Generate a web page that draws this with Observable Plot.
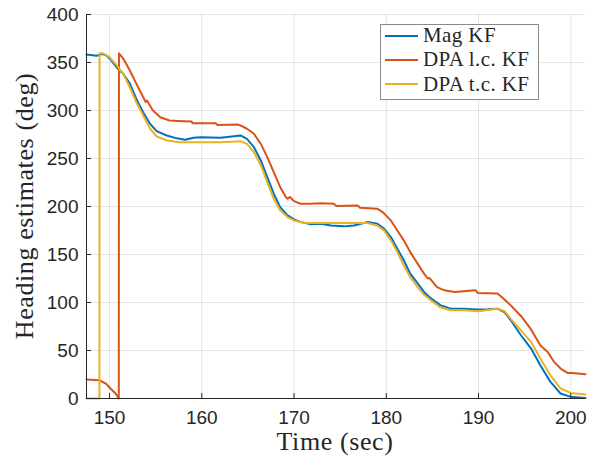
<!DOCTYPE html>
<html>
<head>
<meta charset="utf-8">
<script src="https://cdn.jsdelivr.net/npm/d3@7"></script>
<script src="https://cdn.jsdelivr.net/npm/@observablehq/plot@0.6"></script>
<style>
  body { margin: 0; background: #fff; }
  #chart { position: relative; width: 591px; height: 459px; overflow: hidden; }
  .ylabel, .xlabel { position: absolute; font-family: "Liberation Serif", serif; font-size: 26px; letter-spacing: 0.6px;
                     color: #262626; white-space: nowrap; line-height: 1; }
  .xlabel { left: 335px; top: 442px; transform: translate(-50%, -50%); }
  .ylabel { left: 25px; top: 206px; transform: translate(-50%, -50%) rotate(-90deg); }
  .legend { position: absolute; left: 380px; top: 24px; width: 159px; height: 76px; box-sizing: border-box;
            border: 1px solid #8a8a8a; background: #fff; font-family: "Liberation Serif", serif; font-size: 21px;
            letter-spacing: 0.4px; color: #262626; padding: 0 0 0 4px; }
  .legend .rows { margin-top: -1.5px; }
  .legend .row { display: flex; align-items: center; height: 24.3px; white-space: nowrap; }
  .legend .sw { width: 33px; height: 2px; margin-right: 5px; flex: none; }
</style>
</head>
<body>
<div id="chart"></div>
<script>
// Heading estimates of three Kalman filters over time
const magTime = [147.5, 148.6, 148.95, 149.2, 149.7, 150.2, 150.9, 151.5, 152.2, 152.9, 153.65, 154.4, 155.1, 156.2, 157.3, 158.2, 159.1, 159.9, 162.0, 163.5, 164.2, 164.9, 165.65, 166.4, 167.1, 167.8, 168.5, 169.3, 170.0, 170.7, 171.8, 172.9, 174.0, 175.4, 176.5, 178.0, 179.0, 179.75, 180.5, 181.2, 181.9, 182.6, 183.4, 184.1, 184.8, 185.9, 187.0, 188.4, 189.9, 191.0, 192.05, 192.8, 193.5, 194.6, 195.7, 196.7, 197.8, 198.9, 200.0, 201.6];
const magHeading = [358.3, 357, 358, 359, 357, 352, 343.4, 338, 328, 312, 298, 286, 278.5, 274, 271, 269.5, 271.6, 272.2, 271.6, 273.3, 274, 270.5, 261.8, 248, 230.6, 213.3, 199.4, 190.7, 186.6, 184, 181.4, 182.1, 180.3, 179.3, 180.3, 183.8, 182.1, 176.9, 168.2, 156, 144, 130, 120, 111, 104.5, 97, 93.6, 93.6, 92.6, 92.9, 93.6, 90.1, 81.5, 65.9, 52, 34.7, 17.3, 5.2, 1.7, 0.6];

const lcTime = [147.5, 148.9, 149.6, 150.1, 150.65, 151.0, 151.02, 151.5, 152.2, 152.9, 153.65, 153.9, 154.05, 154.7, 155.5, 156.5, 158.0, 158.9, 159.0, 161.5, 161.7, 163.85, 164.2, 164.9, 165.65, 166.4, 167.1, 167.8, 168.5, 169.1, 169.3, 169.55, 170.0, 170.7, 171.8, 172.9, 174.3, 174.6, 176.9, 177.15, 179.0, 179.6, 180.5, 181.2, 181.9, 182.6, 183.4, 184.1, 184.5, 184.7, 185.5, 186.3, 187.4, 189.7, 189.9, 192.05, 192.6, 193.5, 194.6, 195.7, 196.7, 197.5, 198.2, 198.9, 199.65, 200.2, 201.6];
const lcHeading = [19.8, 19, 15.6, 10.4, 5.2, 0, 359.6, 353.8, 341.6, 328, 313.8, 309, 310.4, 300, 293, 289.6, 288.9, 288.5, 286.8, 286.8, 285, 285.4, 284.4, 281, 275.8, 265.3, 251.4, 235.8, 220.2, 209.8, 208, 209.8, 205.6, 202.9, 202.9, 203.5, 202.9, 200.4, 201.1, 198.7, 197.7, 194.2, 185.5, 175, 164.7, 152.5, 140.5, 130, 125, 125.5, 116, 112.7, 111, 112.7, 109.9, 109.3, 105, 97, 86, 72, 55.5, 48.5, 38.1, 31.2, 26.6, 26.6, 25.3];

const tcTime = [147.5, 148.9, 148.92, 149.3, 150.0, 150.8, 151.5, 152.2, 152.9, 153.65, 154.4, 155.1, 156.2, 157.6, 160.0, 162.0, 164.2, 164.9, 165.65, 166.4, 167.1, 167.8, 168.5, 169.3, 170.0, 171.0, 171.8, 175.0, 178.0, 179.0, 179.75, 180.5, 181.2, 181.9, 182.6, 183.4, 184.1, 184.8, 185.9, 187.0, 188.5, 190.0, 192.05, 192.8, 193.5, 194.6, 195.7, 196.7, 197.8, 198.9, 200.0, 201.6];
const tcHeading = [0, 0, 359.6, 359.6, 355.5, 346.8, 338, 324, 308.6, 294.8, 281, 273, 268.8, 267, 267, 267, 268, 265.3, 256.6, 242.8, 225.4, 208, 196, 189, 185.5, 183, 182.7, 182.7, 182.7, 180.3, 175.1, 164.7, 152.5, 138.7, 126.5, 116, 108, 102.5, 94.7, 91.9, 91.9, 91, 93.6, 91.2, 83, 71, 59, 41.6, 24.2, 10.4, 5.8, 4.2];

const seriesNames = ["Mag KF", "DPA l.c. KF", "DPA t.c. KF"];
const seriesColors = ["#0072BD", "#D95319", "#EDB120"];
const xTicks = [150, 160, 170, 180, 190, 200];
const yTicks = [0, 50, 100, 150, 200, 250, 300, 350, 400];
const xDomain = [147.5, 201.6];
const yDomain = [0, 400];

const rows = (t, v, name) => t.map((d, i) => ({time: d, heading: v[i], series: name}));
const data = [
  ...rows(magTime, magHeading, seriesNames[0]),
  ...rows(lcTime, lcHeading, seriesNames[1]),
  ...rows(tcTime, tcHeading, seriesNames[2])
];

const axisColor = "#262626";
const chart = Plot.plot({
  width: 591,
  height: 459,
  marginLeft: 86,
  marginRight: 6,
  marginTop: 14,
  marginBottom: 61,
  style: {fontFamily: "'Liberation Sans', Arial, sans-serif", fontSize: "19px", color: axisColor, background: "#fff"},
  x: {domain: xDomain},
  y: {domain: yDomain},
  color: {domain: seriesNames, range: seriesColors},
  marks: [
    Plot.gridX(xTicks, {stroke: "#000", strokeOpacity: 0.1}),
    Plot.gridY(yTicks, {stroke: "#000", strokeOpacity: 0.1}),
    Plot.line(data, {x: "time", y: "heading", z: "series", stroke: "series", strokeWidth: 2, curve: "linear"}),
    Plot.ruleY([yDomain[0]], {stroke: axisColor}),
    Plot.ruleX([xDomain[0]], {stroke: axisColor}),
    // inward tick marks
    Plot.axisX(xTicks, {tickSize: -5, tickFormat: () => "", stroke: axisColor, label: null}),
    Plot.axisX(xTicks, {tickSize: 0, tickPadding: 12, label: null, fill: axisColor}),
    Plot.axisY(yTicks, {tickSize: -5, tickFormat: () => "", stroke: axisColor, label: null}),
    Plot.axisY(yTicks, {tickSize: 0, tickPadding: 8, label: null, fill: axisColor})
  ]
});

const host = document.getElementById("chart");
host.appendChild(chart);

const xl = document.createElement("div");
xl.className = "xlabel";
xl.textContent = "Time (sec)";
host.appendChild(xl);

const yl = document.createElement("div");
yl.className = "ylabel";
yl.textContent = "Heading estimates (deg)";
host.appendChild(yl);

const legend = document.createElement("div");
legend.className = "legend";
const legendRows = document.createElement("div");
legendRows.className = "rows";
seriesNames.forEach((name, i) => {
  const row = document.createElement("div");
  row.className = "row";
  const sw = document.createElement("span");
  sw.className = "sw";
  sw.style.background = seriesColors[i];
  const label = document.createElement("span");
  label.textContent = name;
  row.appendChild(sw);
  row.appendChild(label);
  legendRows.appendChild(row);
});
legend.appendChild(legendRows);
host.appendChild(legend);
</script>
</body>
</html>
